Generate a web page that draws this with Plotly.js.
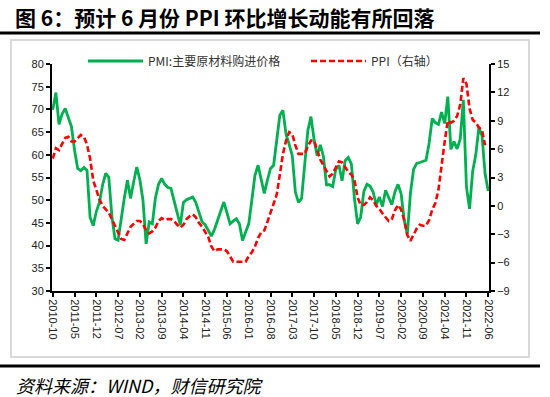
<!DOCTYPE html>
<html>
<head>
<meta charset="utf-8">
<script src="https://cdn.plot.ly/plotly-3.0.1.min.js"></script>
<style>
html,body{margin:0;padding:0;background:#fff;}
#chart{width:550px;height:397px;}
</style>
</head>
<body>
<div id="chart"></div>
<script>
// ---- data ----
const startYear = 2010;
const startMonth = 10;

// PMI: main raw material purchase price index (left axis), 2010-10 .. 2022-06
const pmiPrice = [
  69.9, 73.7, 66.7,
  69.0, 70.2, 68.2, 66.2, 61.0, 57.0, 56.5, 57.2, 56.6, 46.2, 44.4, 47.5,
  49.5, 53.3, 55.9, 55.1, 46.5, 41.5, 41.2, 46.0, 50.5, 54.4, 50.4, 54.0,
  57.3, 54.5, 50.0, 40.4, 45.2, 44.8, 50.5, 53.5, 54.8, 53.5, 52.8, 52.6,
  50.0, 47.3, 44.5, 49.5, 50.1, 50.4, 50.7, 49.5, 47.5, 45.2, 44.6, 43.3,
  42.1, 43.6, 45.5, 47.4, 49.6, 47.2, 44.8, 45.4, 45.9, 44.8, 41.1, 43.0,
  44.8, 50.0, 55.5, 57.7, 54.6, 51.5, 54.4, 57.0, 57.7, 63.0, 68.7, 69.8,
  64.5, 62.3, 59.8, 51.8, 49.5, 50.4, 57.9, 65.3, 68.4, 63.4, 59.8, 62.2,
  59.7, 53.4, 53.4, 53.0, 56.8, 57.7, 54.3, 58.7, 59.4, 58.0, 50.3, 44.8,
  46.3, 51.9, 53.5, 53.1, 51.8, 49.0, 50.7, 48.6, 52.2, 50.4, 49.0, 51.8,
  53.5, 51.4, 45.5, 42.5, 51.6, 56.8, 58.1, 58.3, 58.5, 58.8, 62.6, 68.0,
  67.1, 66.7, 69.4, 66.9, 72.8, 61.2, 62.9, 61.3, 63.5, 72.1, 52.9, 48.1,
  56.4, 60.0, 66.1, 64.2, 55.8, 52.0
];

// PPI YoY % (right axis), 2010-10 .. 2022-05
const ppi = [
  5.0, 6.1, 5.9,
  6.6, 7.2, 7.3, 6.8, 6.8, 7.1, 7.5, 7.3, 6.5, 5.0, 2.7, 1.7,
  0.7, 0.0, -0.3, -0.7, -1.4, -2.1, -2.9, -3.5, -3.6, -2.8, -2.2, -1.9,
  -1.6, -1.6, -1.9, -2.6, -2.9, -2.7, -2.3, -1.6, -1.3, -1.5, -1.4, -1.4,
  -1.6, -2.0, -2.3, -2.0, -1.4, -1.1, -0.9, -1.2, -1.8, -2.2, -2.7, -3.3,
  -4.3, -4.8, -4.6, -4.6, -4.6, -4.8, -5.4, -5.9, -5.9, -5.9, -5.9, -5.9,
  -5.3, -4.9, -4.3, -3.4, -2.8, -2.6, -1.7, -0.8, 0.1, 1.2, 3.3, 5.5,
  6.9, 7.8, 7.6, 6.4, 5.5, 5.5, 5.5, 6.3, 6.9, 6.9, 5.8, 4.9,
  4.3, 3.7, 3.1, 3.4, 4.1, 4.7, 4.6, 4.1, 3.6, 3.3, 2.7, 0.9,
  0.1, 0.1, 0.4, 0.9, 0.6, 0.0, -0.3, -0.8, -1.2, -1.6, -1.4, -0.5,
  0.1, -0.4, -1.5, -3.1, -3.7, -3.0, -2.4, -2.0, -2.1, -2.1, -1.5, -0.4,
  0.3, 1.7, 4.4, 6.8, 9.0, 8.8, 9.0, 9.5, 10.7, 13.5, 12.9, 10.3,
  9.1, 8.8, 8.3, 8.0, 6.4
];

const tickLabels = [
  "2010-10","2011-05","2011-12","2012-07","2013-02","2013-09","2014-04",
  "2014-11","2015-06","2016-01","2016-08","2017-03","2017-10","2018-05",
  "2018-12","2019-07","2020-02","2020-09","2021-04","2021-11","2022-06"
];

const seriesNames = ["PMI:主要原材料购进价格", "PPI（右轴）"];
const titleText = "图 6：预计 6 月份 PPI 环比增长动能有所回落";
const sourceText = "资料来源：WIND，财信研究院";

// month categories
const months = [];
for (let i = 0; i < pmiPrice.length; i++) {
  const t = startMonth - 1 + i;
  const y = startYear + Math.floor(t / 12);
  const m = (t % 12) + 1;
  months.push(y + "-" + String(m).padStart(2, "0"));
}

// ---- layout helpers (pixel -> paper) ----
const W = 550, H = 397;
const M = {l: 52, r: 61, t: 64, b: 106};
const PW = W - M.l - M.r, PH = H - M.t - M.b;
const px = x => (x - M.l) / PW;
const py = y => (H - M.b - y) / PH;

const fontSans = "Liberation Sans, Arial, Noto Sans CJK SC, sans-serif";
const fontCJK = "Noto Sans CJK SC, Liberation Serif, serif";

const traces = [
  {
    x: months, y: pmiPrice, type: "scatter", mode: "lines",
    name: seriesNames[0], legend: "legend",
    line: {color: "#00B050", width: 2.8}
  },
  {
    x: months.slice(0, ppi.length), y: ppi, type: "scatter", mode: "lines",
    name: seriesNames[1], yaxis: "y2", legend: "legend2",
    line: {color: "#FF0000", width: 2.6, dash: "6px,3px"}
  }
];

const axisCommon = {
  showline: true, linecolor: "#000", linewidth: 2,
  ticks: "outside", ticklen: 4, tickwidth: 2, tickcolor: "#000",
  showgrid: false, zeroline: false, fixedrange: true,
  tickfont: {family: fontSans, size: 11, color: "#222"}
};

const legendCommon = {
  orientation: "h", xanchor: "left", yanchor: "middle",
  bgcolor: "rgba(0,0,0,0)", borderwidth: 0,
  font: {family: fontCJK, size: 12, color: "#333"},
  itemwidth: 55
};

const layout = {
  width: W, height: H,
  margin: M,
  paper_bgcolor: "#fff", plot_bgcolor: "#fff",
  showlegend: true,
  legend: Object.assign({}, legendCommon, {x: px(83), y: py(61)}),
  legend2: Object.assign({}, legendCommon, {x: px(306), y: py(61)}),
  xaxis: Object.assign({}, axisCommon, {
    type: "category", range: [-0.25, 140.25],
    tickmode: "array", tickvals: tickLabels, ticktext: tickLabels,
    tickangle: 90
  }),
  yaxis: Object.assign({}, axisCommon, {
    range: [30, 80], tick0: 30, dtick: 5
  }),
  yaxis2: Object.assign({}, axisCommon, {
    overlaying: "y", side: "right", range: [-9, 15], tick0: -9, dtick: 3
  }),
  shapes: [
    {type: "line", xref: "paper", yref: "paper", x0: px(0), x1: px(540), y0: py(33), y1: py(33),
     line: {color: "#000", width: 3}},
    {type: "rect", xref: "paper", yref: "paper", x0: px(11), x1: px(529), y0: py(357), y1: py(40),
     line: {color: "#d9d9d9", width: 2}, fillcolor: "rgba(0,0,0,0)", layer: "below"},
    {type: "line", xref: "paper", yref: "paper", x0: px(0), x1: px(540), y0: py(366), y1: py(366),
     line: {color: "#000", width: 3}}
  ],
  annotations: [
    {text: "<b>" + titleText + "</b>", xref: "paper", yref: "paper", x: px(13), y: py(17),
     xanchor: "left", yanchor: "middle", showarrow: false,
     font: {family: fontCJK, size: 21, color: "#000"}},
    {text: sourceText + " ", xref: "paper", yref: "paper", x: px(12), y: py(385),
     xanchor: "left", yanchor: "middle", showarrow: false, borderpad: 3,
     font: {family: fontCJK, size: 18, color: "#000", style: "italic"}}
  ]
};

Plotly.newPlot("chart", traces, layout, {staticPlot: true, displayModeBar: false});
</script>
</body>
</html>
